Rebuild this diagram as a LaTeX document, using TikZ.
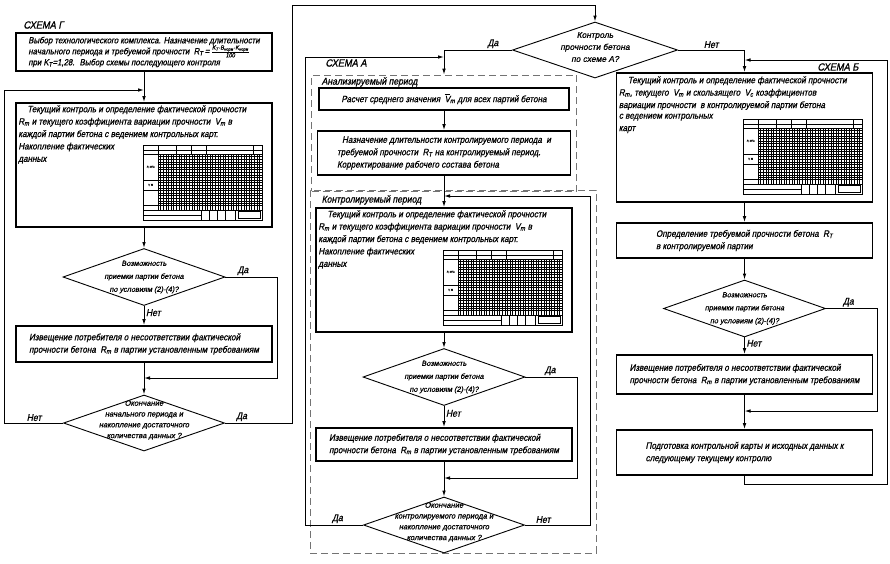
\documentclass[tikz,border=0pt]{standalone}
\usepackage{fontspec}
\setmainfont{Liberation Sans}[FakeStretch=0.88, FakeBold=0.9, FakeSlant=0.2]
\newfontfamily\shirok{Liberation Sans}[FakeBold=0.9, FakeSlant=0.2]
\usepackage{amsmath}
\usetikzlibrary{shapes.geometric,arrows.meta}

\newcommand{\tekst}{\fontsize{9.2}{12.4}\selectfont}
\newcommand{\rombf}{\shirok\fontsize{7.3}{13}\selectfont}
\newcommand{\rombm}{\shirok\fontsize{7.6}{10.8}\selectfont}
\newcommand{\zag}{\fontsize{10.5}{12}\selectfont}

% control card (119 x 75)
\newcommand{\kartka}[1]{%
\begin{scope}[shift={#1}, line width=0.3pt]
\draw[line width=0.8pt] (0,0) rectangle (119,75);
\draw (0,5) -- (119,5) (0,9) -- (119,9);
\foreach \x in {15,33,48,63,110} \draw (\x,0) -- (\x,9);
\foreach \x in {17.6,20.2,...,118} \draw (\x,9) -- (\x,65);
\foreach \y in {11.6,14.2,...,59} \draw (15,\y) -- (119,\y);
\draw[line width=0.7pt] (15,9) -- (15,65);
\draw[line width=0.7pt] (0,35) -- (119,35) (0,45) -- (119,45) (0,60) -- (119,60);
\draw (0,65) -- (119,65) (0,70) -- (58,70);
\foreach \x in {58,66,74,82,92} \draw (\x,65) -- (\x,75);
\draw[line width=0.7pt] (95,66.5) rectangle (117,73.5);
\node[font=\fontsize{2.6}{3}\selectfont, inner sep=0pt] at (7.5,22) {R, МПа};
\node[font=\fontsize{2.6}{3}\selectfont, inner sep=0pt] at (7.5,40) {V, \%};
\end{scope}}

\begin{document}
\begin{tikzpicture}[x=1pt,y=-1pt,
  blok/.style={draw, line width=1.6pt, minimum width=256pt, align=left, inner sep=2pt, font=\tekst},
  romb/.style={draw, diamond, line width=0.9pt, minimum width=162pt, minimum height=57pt, inner sep=0pt},
  ramka/.style={draw=black!55, dash pattern=on 7pt off 4pt, line width=0.7pt, inner sep=0pt},
  strelka/.style={-{Latex[length=6pt,width=3.6pt]}, line width=1pt},
  metka/.style={font=\fontsize{9.8}{11}\selectfont, inner sep=1.5pt},
  rtxt/.style={align=center, font=\rombf},
  btxt/.style={align=left, font=\tekst, anchor=north west, inner sep=0pt}]

\useasboundingbox (0,0) rectangle (890,563);

% Scheme G
\node[font=\zag, anchor=west] (shemaG) at (20,25) {СХЕМА Г};
\node[blok, minimum height=38pt, font=\fontsize{8.9}{11}\selectfont] (vybor) at (144,52) {Выбор технологического комплекса. Назначение длительности\\
начального периода и требуемой прочности \ R\textsubscript{T}\,=\,$\frac{\text{K\textsubscript{T}·B\textsubscript{норм}·K\textsubscript{норм}}}{\text{100}}$\\
при K\textsubscript{T}=1,28. \ Выбор схемы последующего контроля};

\node[blok, minimum height=124pt] (tekG) at (144,165) {};
\node[btxt] (tekGt) at ([shift={(3,3)}]tekG.north west) {\hspace*{9pt}Текущий контроль и определение фактической прочности\\
R\textsubscript{m} и текущего коэффициента вариации прочности \ V\textsubscript{m} в\\
каждой партии бетона с ведением контрольных карт.};
\node[btxt] at ([yshift=-3.4pt]tekGt.south west) {Накопление фактических\\данных};
\kartka{(143,145)}

\node[romb] (vozG) at (144,277) {};
\node[rtxt] at (vozG) {Возможность\\приемки партии бетона\\по условиям (2)-(4)?};

\node[blok, minimum height=36pt] (izvG) at (144,344) {Извещение потребителя о несоответствии фактической\\
прочности бетона \ R\textsubscript{m} в партии установленным требованиям};

\node[romb, minimum width=161pt, minimum height=56pt] (okG) at (144,423) {};
\node[rtxt, font=\rombm] at ([yshift=3pt]okG) {Окончание\\начального периода и\\накопление достаточного\\количества данных ?};

% Scheme A
\node[romb, minimum width=165pt, minimum height=56pt] (kontrA) at (595,50) {};
\node[rtxt, font=\shirok\fontsize{8.4}{12}\selectfont] at ([yshift=3pt]kontrA) {Контроль\\прочности бетона\\по схеме А?};

\node[font=\zag, anchor=west] (shemaA) at (322,63) {СХЕМА А};
\node[ramka, minimum width=265pt, minimum height=116pt] (analiz) at (444,133) {};
\node[metka, anchor=west] at (320,82) {Анализируемый период};
\node[blok, minimum width=250pt, minimum height=22pt] (raschet) at (444,99) {Расчет среднего значения \ \(\overline{\mbox{V}}\)\textsubscript{m} для всех партий бетона};
\node[blok, minimum width=253pt, minimum height=44pt] (naznach) at (444,153) {\hspace*{5pt}Назначение длительности контролируемого периода \ и\\
требуемой прочности \ R\textsubscript{T} на контролируемый период.\\
Корректирование рабочего состава бетона};

\node[ramka, minimum width=286pt, minimum height=363pt] (kontrol) at (453,371.5) {};
\node[metka, anchor=west] at (320,200) {Контролируемый период};
\node[blok, minimum height=124pt] (tekA) at (444,270) {};
\node[btxt] (tekAt) at ([shift={(3,3)}]tekA.north west) {\hspace*{9pt}Текущий контроль и определение фактической прочности\\
R\textsubscript{m} и текущего коэффициента вариации прочности \ V\textsubscript{m} в\\
каждой партии бетона с ведением контрольных карт.};
\node[btxt] at ([yshift=-3.4pt]tekAt.south west) {Накопление фактических\\данных};
\kartka{(443,250)}

\node[romb] (vozA) at (444,377) {};
\node[rtxt] at (vozA) {Возможность\\приемки партии бетона\\по условиям (2)-(4)?};

\node[blok, minimum height=33pt] (izvA) at (444,444.5) {Извещение потребителя о несоответствии фактической\\
прочности бетона \ R\textsubscript{m} в партии установленным требованиям};

\node[romb, minimum width=161pt, minimum height=56pt] (okA) at (444,525) {};
\node[rtxt, font=\rombm] at ([yshift=3pt]okA) {Окончание\\контролируемого периода и\\накопление достаточного\\количества данных ?};

% Scheme B
\node[font=\zag, anchor=east] (shemaB) at (862,67) {СХЕМА Б};
\node[blok, minimum height=129pt] (tekB) at (744.5,137.5) {};
\node[btxt] (tekBt) at ([shift={(3,4)}]tekB.north west) {\hspace*{9pt}Текущий контроль и определение фактической прочности\\
R\textsubscript{m}, текущего \ V\textsubscript{m} и скользящего \ V\textsubscript{c} коэффициентов\\
вариации прочности \ в контролируемой партии бетона};
\node[btxt] at ([yshift=-3.4pt]tekBt.south west) {с ведением контрольных\\карт};
\kartka{(743,119)}

\node[blok, minimum height=35pt] (opred) at (744.5,240.5) {Определение требуемой прочности бетона \ R\textsubscript{T}\\
в контролируемой партии};

\node[romb] (vozB) at (744.5,308.5) {};
\node[rtxt] at (vozB) {Возможность\\приемки партии бетона\\по условиям (2)-(4)?};

\node[blok, minimum height=39pt] (izvB) at (744.5,374.5) {Извещение потребителя о несоответствии фактической\\
прочности бетона \ R\textsubscript{m} в партии установленным требованиям};

\node[blok, minimum height=45pt] (podg) at (744.5,452.5) {Подготовка контрольной карты и исходных данных к\\
следующему текущему контролю};

% junctions and bends
\coordinate (jG) at (144,90);
\coordinate (uG) at (4,90);
\coordinate (jG2) at (144,378);
\coordinate (pG) at (277,378);
\coordinate (vG) at (292,5);
\coordinate (jA) at (444,57);
\coordinate (uA) at (305,57);
\coordinate (jA2) at (444,478);
\coordinate (pA) at (577,478);
\coordinate (jA3) at (444,196);
\coordinate (qA) at (590,196);
\coordinate (jB0) at (744.5,60);
\coordinate (jB1) at (744.5,411);
\coordinate (pB) at (877,411);
\coordinate (nB) at (887,484);
\coordinate (vB) at (887,60);

% left flow
\draw[strelka] (vybor) -- (tekG);
\draw[strelka] (okG.west) -| node[metka, above, pos=0.245] {Нет} (uG) -- (jG);
\draw[strelka] (tekG) -- (vozG);
\draw[strelka] (vozG.east) -| node[metka, above, pos=0.17] {Да} (pG) -- (jG2);
\draw[strelka] (vozG) -- node[metka, right, pos=0.35] {Нет} (izvG);
\draw[strelka] (izvG) -- (okG);
\draw[strelka] (okG.east) -| node[metka, above, pos=0.125] {Да} (vG) -| (kontrA.north);

% middle flow
\draw[strelka] (kontrA.west) -| node[metka, above, pos=0.14] {Да} (analiz.north);
\draw[strelka] (okA.west) -| node[metka, above, pos=0.22] {Да} (uA) -- (jA);
\draw[strelka] (raschet) -- (naznach);
\draw[strelka] (naznach) -- (tekA);
\draw[strelka] (tekA) -- (vozA);
\draw[strelka] (vozA.east) -| node[metka, above, pos=0.24] {Да} (pA) -- (jA2);
\draw[strelka] (vozA) -- node[metka, right, pos=0.35] {Нет} (izvA);
\draw[strelka] (izvA) -- (okA);
\draw[strelka] (okA.east) -| node[metka, above, pos=0.14] {Нет} (qA) -- (jA3);

% right flow
\draw[strelka] (kontrA.east) -| node[metka, above, pos=0.25] {Нет} (tekB.north);
\draw[strelka] (tekB) -- (opred);
\draw[strelka] (opred) -- (vozB);
\draw[strelka] (vozB.east) -| node[metka, above, pos=0.22] {Да} (pB) -- (jB1);
\draw[strelka] (vozB) -- node[metka, right, pos=0.35] {Нет} (izvB);
\draw[strelka] (izvB) -- (podg);
\draw[strelka] (podg.south) |- (nB) -- (vB) -- (jB0);
\end{tikzpicture}
\end{document}
